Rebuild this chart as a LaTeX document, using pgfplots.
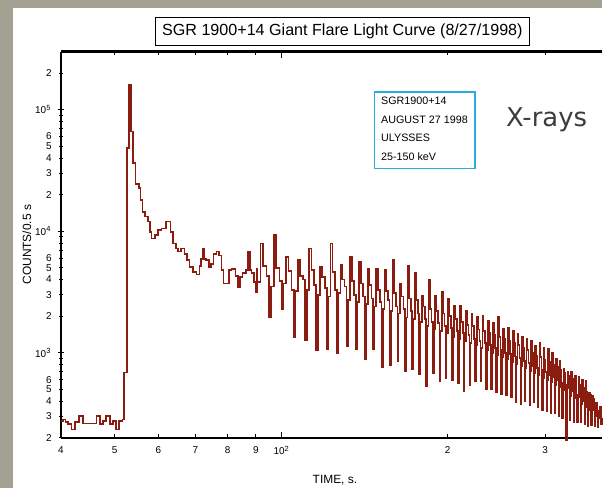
\documentclass[border=0pt]{standalone}
\usepackage{fontspec}
\setmainfont{Liberation Sans}
\newfontfamily\dejavu{DejaVu Sans}
\usepackage{pgfplots}
\pgfplotsset{compat=1.18}
\usepackage{pgfplotstable}

\definecolor{curve}{RGB}{139,28,16}
\definecolor{slate}{RGB}{163,162,146}
\definecolor{boxblue}{RGB}{45,170,225}
\definecolor{xgrey}{RGB}{60,60,60}

\newcommand\tenpow[1]{10\raisebox{3.6bp}{\fontsize{7.5}{8}\selectfont #1}}

% Ulysses 25-150 keV counts per 0.5 s bin, SGR 1900+14, 27 Aug 1998
\pgfplotstableread{
t v
40.00 274
40.38 283
40.79 269
41.23 258
41.82 234
42.39 269
43.10 301
43.87 262
46.40 301
47.00 258
47.65 274
48.20 301
49.01 258
49.69 274
50.24 234
50.93 274
51.66 283
51.94 689
52.60 48200
53.10 161000
53.60 66000
54.00 36300
54.56 24300
55.30 22500
55.70 18000
56.20 14300
56.70 13200
57.50 12000
57.90 9900
58.30 8700
59.10 9300
59.90 10200
60.80 10500
62.00 12000
63.10 9900
63.80 7900
64.50 7200
65.10 6800
66.00 7200
66.90 6500
67.60 5800
68.30 5100
69.30 4600
70.30 4400
71.20 5200
71.70 5900
72.20 7200
72.70 5900
73.20 5800
74.00 5100
74.80 5400
75.50 6500
76.40 6800
77.20 6300
78.00 4800
78.70 3700
79.60 3700
80.40 4800
81.30 4900
82.70 4300
83.50 3470
84.30 4200
85.10 4500
86.50 4800
87.20 6800
87.90 4800
88.40 4500
89.20 3800
89.90 3160
90.40 4900
90.64 3800
91.80 7900
92.80 5200
94.10 4300
95.10 1960
95.80 3500
96.96 9300
97.96 5000
99.26 3900
100.26 2280
100.96 3700
102.12 6100
103.12 4700
104.42 3300
105.42 1340
106.12 3200
107.28 5800
108.28 4300
109.58 4000
110.58 1260
111.28 3300
112.44 7200
113.44 4800
114.74 3600
115.74 1040
116.44 3000
117.60 5100
118.60 4200
119.90 3400
120.90 1070
121.60 2900
122.76 7900
123.76 4600
125.06 3300
126.06 1000
126.76 3100
127.92 5250
128.92 4000
130.22 3500
131.22 1140
131.92 2700
133.08 6100
134.08 3900
135.38 3000
136.38 1070
137.08 2600
138.24 5600
139.24 3700
140.54 2900
141.54 887
142.24 2500
143.40 4900
144.40 3600
145.70 2800
146.70 1070
147.40 2400
148.56 4900
149.56 3300
150.86 2600
151.86 757
152.56 2300
153.72 4800
154.72 3200
156.02 2700
157.02 790
157.72 2200
158.88 5800
159.88 3100
161.18 2400
162.18 860
162.88 2100
164.04 3700
165.04 2900
166.34 2300
167.34 710
168.04 1950
169.20 5200
170.20 2800
171.50 2200
172.50 730
173.20 1900
174.36 4500
175.36 2700
176.66 2100
177.66 667
178.36 1800
179.52 2950
180.52 2400
181.82 1900
182.82 534
183.52 1650
184.68 3960
185.68 2300
186.98 1800
187.98 680
188.68 1550
189.84 2950
190.84 2200
192.14 1750
193.14 587
193.84 1500
195.00 3160
196.00 2100
197.30 1650
198.30 620
199.00 1450
200.16 2780
201.16 2000
202.46 1600
203.46 600
204.16 1350
205.32 2450
206.32 1900
207.62 1500
208.62 560
209.32 1300
210.48 2450
211.48 1800
212.78 1450
213.78 485
214.48 1250
215.64 2200
216.64 1700
217.94 1400
218.94 540
219.64 1200
220.80 2100
221.80 1650
223.10 1300
224.10 580
224.80 1150
225.96 1960
226.96 1550
228.26 1250
229.26 587
229.96 1100
231.12 2020
232.12 1500
233.42 1200
234.42 500
235.12 1050
236.28 1830
237.28 1450
238.58 1150
239.58 500
240.28 1000
241.44 1750
242.44 1400
243.74 1100
244.74 470
245.44 950
246.60 1960
247.60 1350
248.90 1050
249.90 460
250.60 920
251.76 1570
252.76 1300
254.06 1000
255.06 450
255.76 880
256.92 1600
257.92 1250
259.22 980
260.22 430
260.92 840
262.08 1500
263.08 1200
264.38 930
265.38 390
266.08 800
267.24 1440
268.24 1150
269.54 900
270.54 376
271.24 770
272.40 1340
273.40 1100
274.70 850
275.70 400
276.40 740
277.56 1300
278.56 1050
279.86 820
280.86 370
281.56 700
282.72 1250
283.72 1000
285.02 780
286.02 390
286.72 680
287.88 1140
288.88 950
290.18 750
291.18 360
291.88 650
293.04 1200
294.04 920
295.34 720
296.34 340
297.04 620
298.20 1100
299.20 880
300.50 690
301.50 330
302.20 600
303.36 1070
304.36 840
305.66 660
306.66 320
307.36 570
308.52 1000
309.52 800
310.82 630
311.82 320
312.52 540
313.68 887
314.68 760
315.98 600
316.98 301
317.68 520
318.84 860
319.84 720
321.14 570
322.14 290
322.84 490
324.00 735
325.00 680
326.30 540
327.30 190
328.00 470
329.16 700
330.16 640
331.46 510
332.46 280
333.16 440
334.32 700
335.32 610
336.62 480
337.62 266
338.32 420
339.48 650
340.48 570
341.78 450
342.78 270
343.48 400
344.64 630
345.64 540
346.94 430
347.94 266
348.64 380
349.80 600
350.80 510
352.10 400
353.10 260
353.80 360
354.96 587
355.96 480
357.26 380
358.26 250
358.96 340
360.12 470
361.12 450
362.42 360
363.42 255
364.12 320
365.28 440
366.28 420
367.58 340
368.58 250
369.28 300
370.44 390
371.44 390
372.74 320
373.74 245
374.44 290
375.60 330
376.60 360
377.90 300
378.90 260
379.80 290
}\lightcurve

\begin{document}
\begin{tikzpicture}[x=1bp,y=1bp]
\fill[slate] (0,0) rectangle (603,489);
\fill[white] (13,0) rectangle (603,481);

\begin{axis}[
  at={(61bp,50.5bp)}, anchor=south west,
  scale only axis, width=542bp, height=386.8bp,
  xmode=log, ymode=log,
  xmin=40, xmax=379.8, ymin=200, ymax=3e5,
  clip=false,
  axis x line=box, axis y line=left,
  axis line style={-, line width=2.2bp, black},
  every tick/.style={black, line width=0.7bp},
  major tick length=6bp, minor tick length=3.3bp,
  xtick={100}, xticklabels={\tenpow{2}},
  minor xtick={},
  extra x ticks={40,50,60,70,80,90,200,300},
  extra x tick labels={4,5,6,7,8,9,2,3},
  extra x tick style={major tick length=3.3bp,
    tick label style={font=\fontsize{8}{9}\selectfont}},
  ytick={1000,10000,100000},
  yticklabels={\tenpow{3},\tenpow{4},\tenpow{5}},
  minor ytick={700,800,900,7000,8000,9000,70000,80000,90000},
  extra y ticks={200,300,400,500,600,2000,3000,4000,5000,6000,20000,30000,40000,50000,60000,200000},
  extra y tick labels={2,3,4,5,6,2,3,4,5,6,2,3,4,5,6,2},
  extra y tick style={major tick length=3.3bp,
    tick label style={font=\fontsize{8}{9}\selectfont}},
  xticklabel style={font=\fontsize{10}{12}\selectfont, yshift=-5bp},
  yticklabel style={font=\fontsize{10}{12}\selectfont, xshift=-4bp},
  xlabel={TIME, s.},
  xlabel style={at={(axis description cs:0.5065,-0.11)}, anchor=center,
    font=\fontsize{12}{14}\selectfont},
  ylabel={COUNTS/0.5 s},
  ylabel style={at={(axis description cs:-0.0627,0.5)}, anchor=center,
    font=\fontsize{12}{14}\selectfont},
]
\addplot[curve, line width=1.7bp, const plot, line join=miter] table[x=t, y=v] {\lightcurve};
\end{axis}

% title
\node[draw, line width=1bp, minimum width=375bp, minimum height=28bp, inner sep=0pt,
  font=\fontsize{16.2}{19}\selectfont] at (343,457.5)
  {SGR 1900+14 Giant Flare Light Curve (8/27/1998)};

% instrument box
\draw[boxblue, line width=1.4bp] (375,397) rectangle (476,320);
\begin{scope}[every node/.style={anchor=base west, inner sep=0pt, font=\fontsize{10.8}{12}\selectfont}]
\node at (381.7,384.5) {SGR1900+14};
\node at (381.7,365.2) {AUGUST 27 1998};
\node at (381.7,347.2) {ULYSSES};
\node at (381.7,328.2) {25-150 keV};
\end{scope}

\node[anchor=base, inner sep=0pt, text=xgrey, font=\dejavu\fontsize{26}{30}\selectfont]
  at (547.5,362) {X-rays};
\end{tikzpicture}
\end{document}
